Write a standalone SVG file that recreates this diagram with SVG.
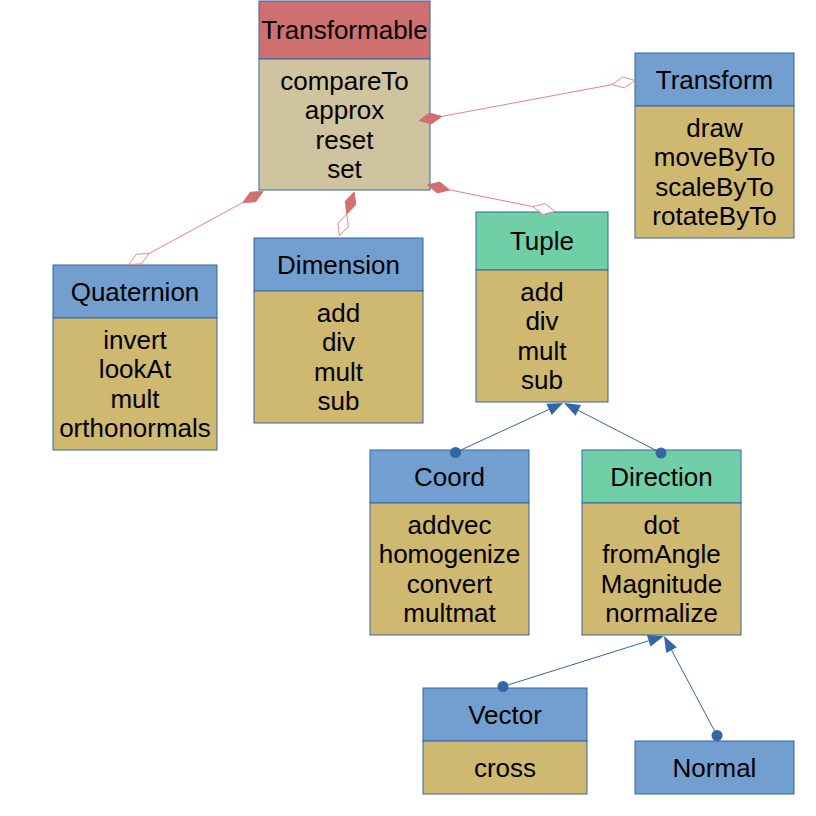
<svg xmlns="http://www.w3.org/2000/svg" width="816" height="816" viewBox="0 0 816 816">
<style>
rect{stroke:#3465a4;stroke-width:1}
.blue{fill:#729fcf}
.red{fill:#cf7070}
.green{fill:#71cfa8}
.gold{fill:#cfb86f}
.beige{fill:#cfc49f}
text{font-family:"Liberation Sans",Arial,sans-serif;font-size:26px;fill:#000;text-anchor:middle}
.agg{stroke:#e08585;stroke-width:1;fill:none}
.dfill{fill:#d07070;stroke:#d07070;stroke-width:1}
.dhollow{fill:#fff;stroke:#e08a8a;stroke-width:1}
.gen{stroke:#3465a4;stroke-width:1;fill:none}
.head{fill:#3465a4}
</style>
<rect width="816" height="816" fill="#fff" style="stroke:none"/>
<g id="Transformable">
<rect class="red" x="259" y="1" width="171" height="58"/>
<rect class="beige" x="259" y="59" width="171" height="131"/>
<text x="344.5" y="39">Transformable</text>
<text x="344.5" y="90">compareTo</text>
<text x="344.5" y="119.3">approx</text>
<text x="344.5" y="148.6">reset</text>
<text x="344.5" y="177.9">set</text>
</g>
<g id="Transform">
<rect class="blue" x="635" y="53" width="159" height="53"/>
<rect class="gold" x="635" y="106" width="159" height="132"/>
<text x="714.5" y="88.5">Transform</text>
<text x="714.5" y="137">draw</text>
<text x="714.5" y="166.3">moveByTo</text>
<text x="714.5" y="195.6">scaleByTo</text>
<text x="714.5" y="224.9">rotateByTo</text>
</g>
<g id="Quaternion">
<rect class="blue" x="53" y="265" width="164" height="53"/>
<rect class="gold" x="53" y="318" width="164" height="132"/>
<text x="135" y="300.5">Quaternion</text>
<text x="135" y="349">invert</text>
<text x="135" y="378.3">lookAt</text>
<text x="135" y="407.6">mult</text>
<text x="135" y="436.9">orthonormals</text>
</g>
<g id="Dimension">
<rect class="blue" x="254" y="238" width="169" height="53"/>
<rect class="gold" x="254" y="291" width="169" height="132"/>
<text x="338.5" y="273.5">Dimension</text>
<text x="338.5" y="322">add</text>
<text x="338.5" y="351.3">div</text>
<text x="338.5" y="380.6">mult</text>
<text x="338.5" y="409.9">sub</text>
</g>
<g id="Tuple">
<rect class="green" x="476" y="212" width="132" height="58"/>
<rect class="gold" x="476" y="270" width="132" height="132"/>
<text x="542" y="250">Tuple</text>
<text x="542" y="301">add</text>
<text x="542" y="330.3">div</text>
<text x="542" y="359.6">mult</text>
<text x="542" y="388.9">sub</text>
</g>
<g id="Coord">
<rect class="blue" x="370" y="450" width="159" height="53"/>
<rect class="gold" x="370" y="503" width="159" height="132"/>
<text x="449.5" y="485.5">Coord</text>
<text x="449.5" y="534">addvec</text>
<text x="449.5" y="563.3">homogenize</text>
<text x="449.5" y="592.6">convert</text>
<text x="449.5" y="621.9">multmat</text>
</g>
<g id="Direction">
<rect class="green" x="582" y="450" width="159" height="53"/>
<rect class="gold" x="582" y="503" width="159" height="132"/>
<text x="661.5" y="485.5">Direction</text>
<text x="661.5" y="534">dot</text>
<text x="661.5" y="563.3">fromAngle</text>
<text x="661.5" y="592.6">Magnitude</text>
<text x="661.5" y="621.9">normalize</text>
</g>
<g id="Vector">
<rect class="blue" x="423" y="688" width="164" height="53"/>
<rect class="gold" x="423" y="741" width="164" height="53"/>
<text x="505" y="723.5">Vector</text>
<text x="505" y="776.5">cross</text>
</g>
<g id="Normal">
<rect class="blue" x="635" y="741" width="159" height="53"/>
<text x="714.5" y="776.5">Normal</text>
</g>
<g id="connectors">
<line class="agg" x1="441.8" y1="116.4" x2="612" y2="84.6"/>
<polygon class="dfill" points="419.2,120.6 429.5,113.1 441.8,116.4 431.5,123.9"/>
<polygon class="dhollow" points="612,84.6 622.5,77.1 635,80.4 624.5,87.9"/>
<line class="agg" x1="449.7" y1="189.9" x2="532.8" y2="206.6"/>
<polygon class="dfill" points="427.3,185.1 439.7,182.1 449.7,189.9 437.4,192.9"/>
<polygon class="dhollow" points="532.8,206.6 545.1,203.6 555.2,211.4 542.9,214.4"/>
<line class="agg" x1="242.9" y1="202.5" x2="149.1" y2="253.5"/>
<polygon class="dfill" points="263.1,191.5 250.4,192.2 242.9,202.5 255.6,201.8"/>
<polygon class="dhollow" points="149.1,253.5 136.4,254.2 128.9,264.5 141.6,263.8"/>
<polygon class="dfill" points="354.2,192.1 355.7,204.8 346.8,213.9 345.3,201.2"/>
<polygon class="dhollow" points="346.8,213.9 348.3,226.6 339.4,235.7 337.9,223"/>
<line class="gen" x1="455.5" y1="452.5" x2="549" y2="409.4"/>
<polygon class="head" points="563,403 551.7,415.1 546.3,403.7"/>
<circle class="head" cx="455.5" cy="452.5" r="5.5"/>
<line class="gen" x1="661" y1="453" x2="578.2" y2="410.3"/>
<polygon class="head" points="564,403 581,405 575.5,415.7"/>
<circle class="head" cx="661" cy="453" r="5.5"/>
<line class="gen" x1="503" y1="686.5" x2="648.7" y2="640.8"/>
<polygon class="head" points="664,636 650.5,646.5 646.9,635.1"/>
<circle class="head" cx="503" cy="686.5" r="5.5"/>
<line class="gen" x1="717" y1="735.5" x2="671.5" y2="650.1"/>
<polygon class="head" points="664,636 676.8,647.3 666.2,652.9"/>
<circle class="head" cx="717" cy="735.5" r="5.5"/>
</g>
</svg>
